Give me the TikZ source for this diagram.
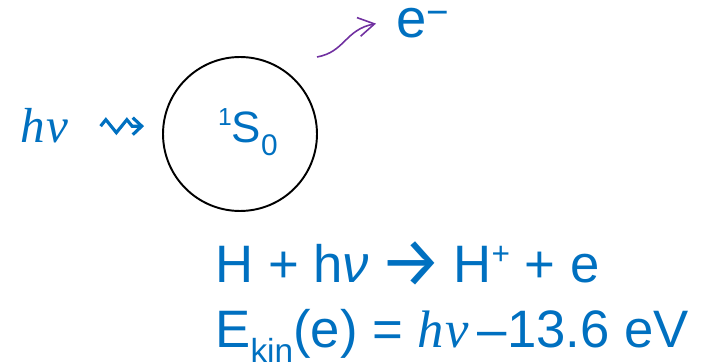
\documentclass[tikz,border=0pt]{standalone}
\usepackage{fontspec}
\setmainfont{Liberation Sans}
\newfontfamily\serifit{Liberation Serif}
\newfontfamily\arrowfont{Fira Sans}
\usepackage{tikz}
\usetikzlibrary{arrows.meta,decorations.pathmorphing}

\definecolor{ppblue}{HTML}{0070C0}
\definecolor{pppurple}{HTML}{7030A0}

\newcommand{\hnu}{{\serifit\itshape h\kern0.03em ν}}

\begin{document}
\begin{tikzpicture}[
    x=0.02cm, y=-0.02cm,
    atom/.style={circle, draw=black, line width=1.1pt, minimum size=3.08cm, inner sep=0pt},
    txt/.style={text=ppblue, inner sep=0pt, anchor=base west},
    wave/.style={-{Straight Barb[length=0.18cm, width=0.34cm]}, ppblue, line width=1.8pt,
        decorate, decoration={zigzag, segment length=0.42cm, amplitude=0.13cm, post length=0.2cm}},
    emit/.style={-{Straight Barb[length=0.32cm, width=0.38cm]}, pppurple, line width=0.9pt},
]
\useasboundingbox (0,0) rectangle (704,364);
% ---------- atom and photon ----------
\node[atom] (atom) at (240,134) {};
\node[txt, anchor=center] (term) at (248,132)
    {\fontsize{25}{28}\selectfont\raisebox{9.7pt}{\fontsize{14}{15}\selectfont 1}S\raisebox{-7.4pt}{\fontsize{17}{18}\selectfont 0}};
\node[txt] (photon) at (20,143) {\fontsize{28}{32}\selectfont\hnu};
\coordinate (hit) at (photon.east -| atom.west);
\draw[wave] ([xshift=0.64cm]photon.east) -- ([xshift=-0.36cm]hit);
% ---------- electron ----------
\node[txt] (elec) at (396,38) {\fontsize{31}{34}\selectfont e\raisebox{7pt}{\fontsize{22}{22}\selectfont −}};
\coordinate (kick) at (317,57);
\draw[emit] (kick) .. controls +(28,-5) and +(-31,6) .. ([xshift=-0.4cm]elec.west);
% ---------- equations ----------
\node[txt] (react) at (215,283) {\fontsize{30}{34}\selectfont H + h{\itshape ν}\kern6pt\raisebox{-2pt}{\fontsize{40}{40}\arrowfont →}\kern6pt H\raisebox{10.8pt}{\fontsize{18}{18}\selectfont +} + e};
\node[txt] (energy) at (215,348) {\fontsize{30}{34}\selectfont E\raisebox{-8pt}{\fontsize{19}{19}\selectfont kin}(e) = \hnu\,–13.6 eV};
\end{tikzpicture}
\end{document}
